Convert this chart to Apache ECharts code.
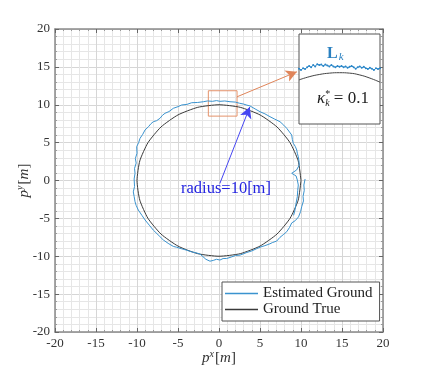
<!DOCTYPE html>
<html>
<head>
<meta charset="utf-8">
<script src="https://cdn.jsdelivr.net/npm/echarts@6/dist/echarts.min.js"></script>
<style>
  html, body { margin: 0; padding: 0; background: #fff; }
  #chart { width: 423px; height: 373px; }
</style>
</head>
<body>
<div id="chart"></div>
<script>
// estimated ground path (x, y in metres)
const estX = [10.5, 10.35, 10.4, 10.25, 10.3, 10.1, 9.95, 9.7, 9.3, 8.87, 8.6, 8.26, 7.9, 7.44, 7.03, 6.5, 6.22, 5.6, 5.0, 4.59, 4.0, 3.4, 2.56, 2.0, 1.5, 0.93, 0.5, 0.12, -0.3, -0.7, -1.1, -1.6, -2.32, -2.8, -3.4, -3.94, -4.6, -5.2, -5.57, -6.2, -6.79, -7.3, -8.01, -8.5, -9.02, -9.4, -9.84, -10.1, -10.24, -10.35, -10.45, -10.3, -10.35, -10.24, -10.3, -10.1, -10.2, -10.0, -10.04, -9.8, -9.63, -9.3, -9.02, -8.6, -8.3, -8.01, -7.6, -7.2, -6.9, -6.59, -6.1, -5.57, -5.0, -4.55, -3.9, -3.33, -2.6, -1.91, -1.4, -0.8, -0.3, 0.12, 0.7, 1.34, 2.0, 2.5, 2.96, 3.4, 3.78, 4.4, 5.0, 5.6, 6.22, 6.8, 7.44, 7.9, 8.26, 8.6, 8.87, 8.95, 9.06, 9.3, 9.48, 9.55, 9.67, 9.75, 9.79, 9.47, 8.87, 9.4, 9.55, 9.67, 9.6, 9.55, 9.4, 9.27, 9.1];
const estY = [0.2, -0.6, -1.3, -2.1, -2.7, -3.4, -4.1, -4.8, -5.3, -5.6, -6.2, -6.76, -7.1, -7.5, -8.0, -8.2, -8.35, -8.6, -8.8, -9.0, -9.3, -9.5, -9.85, -9.9, -10.1, -10.3, -10.3, -10.5, -10.4, -10.55, -10.65, -10.4, -9.7, -9.55, -9.4, -9.2, -9.0, -8.8, -8.7, -8.3, -7.85, -7.3, -6.55, -5.9, -5.21, -4.6, -3.9, -3.3, -2.8, -2.1, -1.5, -0.8, 0.2, 0.95, 1.6, 2.3, 2.9, 3.6, 4.46, 5.0, 5.57, 6.1, 6.67, 7.1, 7.5, 7.76, 7.9, 8.21, 8.6, 8.87, 9.1, 9.53, 9.75, 9.97, 10.05, 10.27, 10.3, 10.4, 10.5, 10.45, 10.55, 10.45, 10.5, 10.4, 10.35, 10.2, 10.1, 9.95, 9.84, 9.45, 9.08, 8.8, 8.42, 8.1, 7.76, 7.3, 6.89, 6.4, 6.0, 5.4, 4.91, 4.5, 4.03, 3.6, 3.14, 2.6, 2.05, 1.4, 0.95, 0.6, 0.07, -0.59, -1.3, -2.14, -3.0, -3.89, -4.6];

// ground truth circle, radius 10 m, every 15 degrees
const trueX = [10, 9.66, 8.66, 7.07, 5, 2.59, 0, -2.59, -5, -7.07, -8.66, -9.66, -10, -9.66, -8.66, -7.07, -5, -2.59, 0, 2.59, 5, 7.07, 8.66, 9.66, 10];
const trueY = [0, 2.59, 5, 7.07, 8.66, 9.66, 10, 9.66, 8.66, 7.07, 5, 2.59, 0, -2.59, -5, -7.07, -8.66, -9.66, -10, -9.66, -8.66, -7.07, -5, -2.59, 0];

// zoomed inset
const insetX = [-2, -1.9, -1.8, -1.7, -1.6, -1.5, -1.4, -1.3, -1.2, -1.1, -1.0, -0.9, -0.8, -0.7, -0.6, -0.5, -0.4, -0.3, -0.2, -0.1, 0, 0.1, 0.2, 0.3, 0.4, 0.5, 0.6, 0.7, 0.8, 0.9, 1.0, 1.1, 1.2, 1.3, 1.4, 1.5, 1.6, 1.7, 1.8, 1.9, 2.0];
const insetEstY = [10.23, 10.2, 10.24, 10.22, 10.26, 10.29, 10.26, 10.31, 10.28, 10.33, 10.31, 10.32, 10.29, 10.32, 10.3, 10.28, 10.31, 10.28, 10.26, 10.29, 10.27, 10.29, 10.26, 10.28, 10.25, 10.27, 10.29, 10.26, 10.23, 10.26, 10.28, 10.25, 10.27, 10.24, 10.22, 10.25, 10.23, 10.2, 10.24, 10.22, 10.24];
const insetArcX = [-2, -1.5, -1, -0.5, 0, 0.5, 1, 1.5, 2];
const insetArcY = [9.98, 10.05, 10.1, 10.13, 10.14, 10.13, 10.09, 10.02, 9.93];

const xTicks = { min: -20, max: 20, step: 5 };
const yTicks = { min: -20, max: 20, step: 5 };

const pairs = (xs, ys) => xs.map((x, i) => [x, ys[i]]);

const serif = '"Liberation Serif", "DejaVu Serif", serif';
const frame = '#8a8a8a';

const chart = echarts.init(document.getElementById('chart'));

const mainAxis = (t, pos, labels) => ({
  type: 'value',
  gridIndex: 0,
  position: pos,
  min: t.min,
  max: t.max,
  interval: t.step,
  axisLine: { show: true, onZero: false, lineStyle: { color: frame, width: 1.5 } },
  axisTick: { show: true, inside: true, length: 4, lineStyle: { color: '#666' } },
  minorTick: { show: true, splitNumber: 5, length: 2, lineStyle: { color: '#999' } },
  axisLabel: { show: labels, color: '#333', fontFamily: serif, fontSize: 13, margin: 5 },
  splitLine: { show: labels, lineStyle: { color: '#d6d6d6', width: 1 } },
  minorSplitLine: { show: labels, lineStyle: { color: '#e6e6e6', width: 1 } }
});

const nameRich = {
  i: { fontFamily: serif, fontStyle: 'italic', fontSize: 15, color: '#333' },
  n: { fontFamily: serif, fontSize: 15, color: '#333' },
  sup: { fontFamily: serif, fontStyle: 'italic', fontSize: 10, color: '#333', padding: [0, 1, 8, 0] }
};

const option = {
  backgroundColor: '#fff',
  animation: false,
  grid: [
    { left: 55, right: 40, top: 29, bottom: 41, outerBoundsMode: 'none' },
    { left: 299, top: 34, width: 81, height: 90, outerBoundsMode: 'none', show: true, backgroundColor: '#fff', borderColor: '#555', borderWidth: 1, z: 5 }
  ],
  xAxis: [
    Object.assign(mainAxis(xTicks, 'bottom', true), {
      name: '{i|p}{sup|x}{n|[}{i|m}{n|]}',
      nameLocation: 'middle',
      nameGap: 17,
      nameMoveOverlap: false,
      nameTextStyle: { rich: nameRich }
    }),
    mainAxis(xTicks, 'top', false),
    { type: 'value', gridIndex: 1, min: -2, max: 2, show: false }
  ],
  yAxis: [
    Object.assign(mainAxis(yTicks, 'left', true), {
      name: '{i|p}{sup|y}{n|[}{i|m}{n|]}',
      nameLocation: 'middle',
      nameGap: 22,
      nameMoveOverlap: false,
      nameRotate: 90,
      nameTextStyle: { rich: nameRich }
    }),
    mainAxis(yTicks, 'right', false),
    { type: 'value', gridIndex: 1, min: 9, max: 11, show: false }
  ],
  legend: {
    data: ['Estimated Ground', 'Ground True'],
    orient: 'vertical',
    left: 222,
    top: 282,
    padding: [4, 7, 4, 3],
    itemGap: 1,
    itemWidth: 33,
    itemHeight: 1.5,
    icon: 'rect',
    backgroundColor: '#fff',
    borderColor: '#555',
    borderWidth: 1,
    textStyle: { fontFamily: serif, fontSize: 15, color: '#222' }
  },
  series: [
    {
      name: 'Estimated Ground',
      type: 'line',
      data: pairs(estX, estY),
      showSymbol: false,
      lineStyle: { color: '#3a93cf', width: 1 },
      itemStyle: { color: '#3a93cf' },
      z: 3,
      markArea: {
        silent: true,
        itemStyle: { color: 'rgba(0,0,0,0)', borderColor: '#e4926a', borderWidth: 1 },
        data: [[{ coord: [-1.3, 11.85] }, { coord: [2.2, 8.5] }]]
      },
      markLine: {
        silent: true,
        symbol: ['none', 'arrow'],
        symbolSize: [9, 11],
        label: { show: false },
        data: [
          [{ coord: [2.2, 11.05], lineStyle: { color: '#e0855a', width: 1, type: 'solid' } },
           { coord: [9.5, 14.35] }],
          [{ coord: [0.1, -0.4], lineStyle: { color: '#4646f2', width: 1, type: 'solid' } },
           { coord: [3.75, 9.7] }]
        ]
      }
    },
    {
      name: 'Ground True',
      type: 'line',
      data: pairs(trueX, trueY),
      showSymbol: false,
      smooth: 0.2,
      lineStyle: { color: '#3a3a3a', width: 1 },
      itemStyle: { color: '#3a3a3a' },
      z: 2
    },
    {
      name: 'inset-est',
      type: 'line',
      xAxisIndex: 2,
      yAxisIndex: 2,
      data: pairs(insetX, insetEstY),
      showSymbol: true,
      symbol: 'circle',
      symbolSize: 2,
      lineStyle: { color: '#2a86c8', width: 1 },
      itemStyle: { color: '#2a86c8' },
      z: 6
    },
    {
      name: 'inset-true',
      type: 'line',
      xAxisIndex: 2,
      yAxisIndex: 2,
      data: pairs(insetArcX, insetArcY),
      showSymbol: false,
      smooth: true,
      lineStyle: { color: '#444', width: 1 },
      z: 6
    }
  ],
  graphic: [
    {
      type: 'text',
      left: 181,
      top: 180,
      z: 10,
      style: { text: 'radius=10[m]', font: '16.5px ' + serif, fill: '#2323e0' }
    },
    {
      type: 'text',
      left: 327,
      top: 46,
      z: 10,
      style: {
        text: '{b|L}{k|k}',
        rich: {
          b: { fontFamily: serif, fontWeight: 'bold', fontSize: 16, fill: '#2a80c0' },
          k: { fontFamily: serif, fontStyle: 'italic', fontSize: 11, fill: '#2a80c0', padding: [6, 0, 0, 1] }
        }
      }
    },
    {
      type: 'text',
      left: 317,
      top: 89,
      z: 10,
      style: {
        text: '{i|κ}{s|*}{sub|k}{n| = 0.1}',
        rich: {
          i: { fontFamily: serif, fontStyle: 'italic', fontSize: 17, fill: '#222' },
          s: { fontFamily: serif, fontSize: 10, fill: '#222', padding: [0, 0, 10, 0] },
          sub: { fontFamily: serif, fontStyle: 'italic', fontSize: 10, fill: '#222', padding: [8, 0, 0, -5] },
          n: { fontFamily: serif, fontSize: 17, fill: '#222' }
        }
      }
    }
  ]
};

chart.setOption(option);
</script>
</body>
</html>
